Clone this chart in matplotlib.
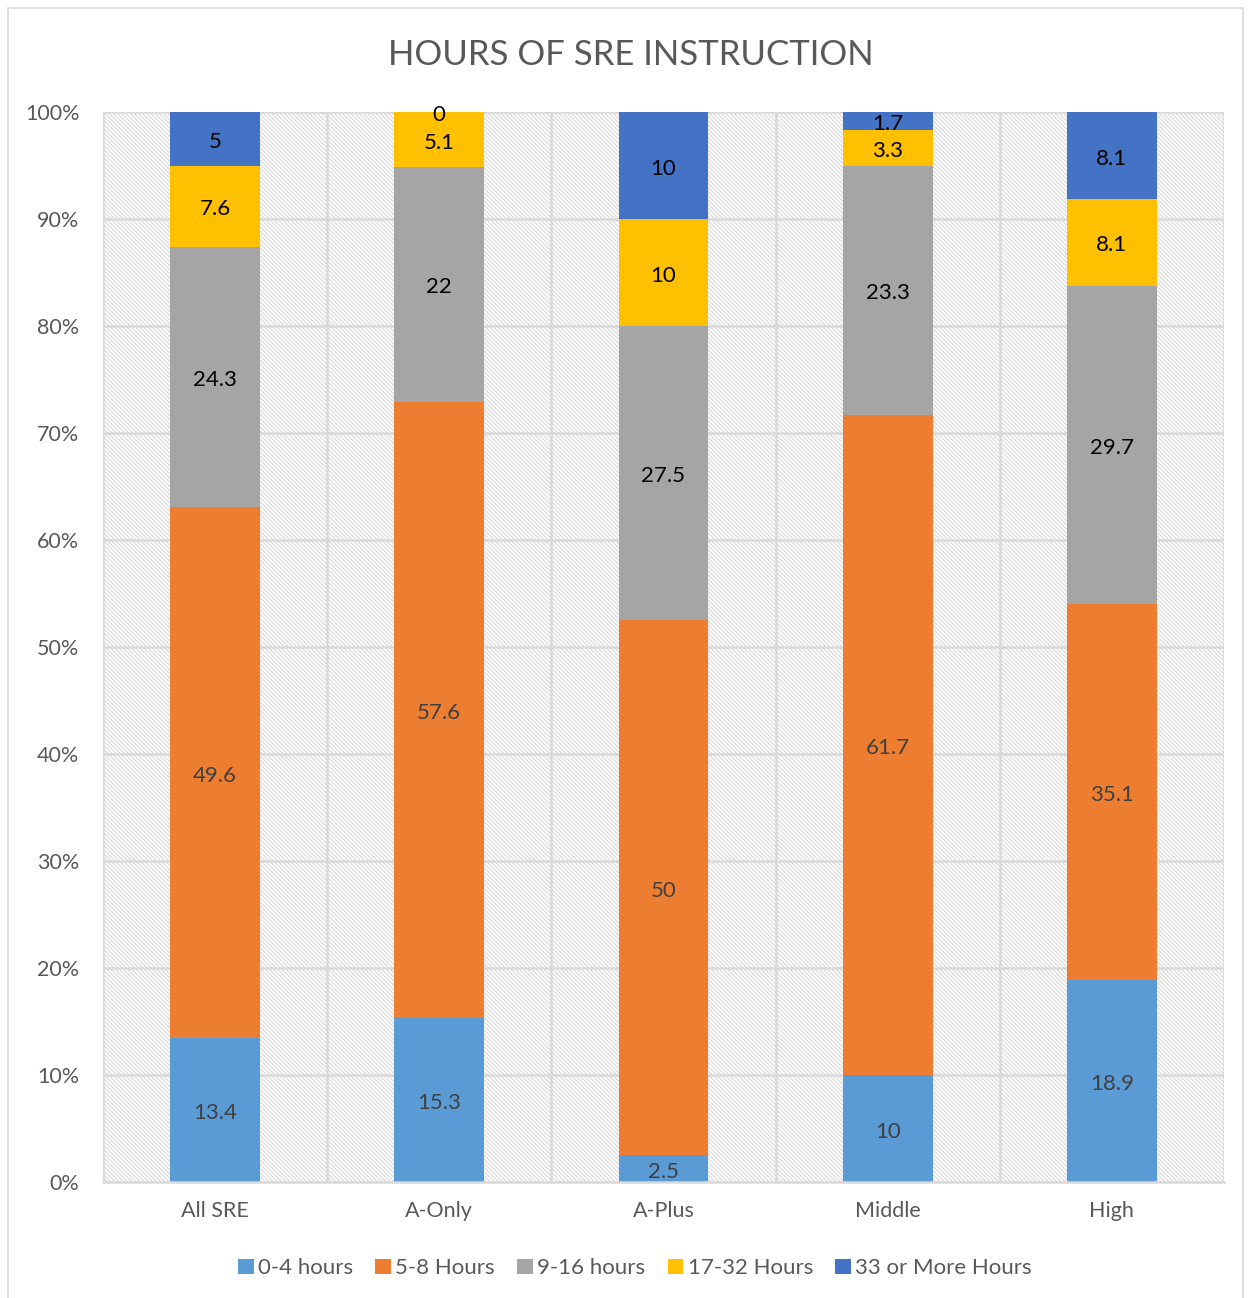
import matplotlib.pyplot as plt
import numpy as np
from matplotlib.patches import Rectangle
from matplotlib.ticker import PercentFormatter

plt.rcParams['font.family'] = ['Lato', 'DejaVu Sans']
plt.rcParams['hatch.linewidth'] = 0.9

groups = ["All SRE", "A-Only", "A-Plus", "Middle", "High"]
series = ["0-4 hours", "5-8 Hours", "9-16 hours", "17-32 Hours", "33 or More Hours"]
h0_4 = [13.4, 15.3, 2.5, 10, 18.9]
h5_8 = [49.6, 57.6, 50, 61.7, 35.1]
h9_16 = [24.3, 22, 27.5, 23.3, 29.7]
h17_32 = [7.6, 5.1, 10, 3.3, 8.1]
h33 = [5, 0, 10, 1.7, 8.1]

colors = ["#5b9bd5", "#ed7d31", "#a5a5a5", "#ffc000", "#4472c4"]
label_colors = ["#404040", "#404040", "black", "black", "black"]

fig = plt.figure(figsize=(12.5, 12.98), dpi=100)
ax = fig.add_axes([0.0824, 0.0894, 0.8968, 0.8243])

# chart border
fig.add_artist(Rectangle((0.0064, -0.01), 0.988, 1.0038, transform=fig.transFigure,
                         fill=False, edgecolor="#d9d9d9", lw=1.2))

# hatched plot area
ax.add_patch(Rectangle((0, 0), 1, 1, transform=ax.transAxes, facecolor="white",
                       edgecolor="#dcdcdc", hatch="\\" * 8, lw=0, zorder=0))

data = np.array([h0_4, h5_8, h9_16, h17_32, h33])
totals = data.sum(axis=0)
pct = data / totals * 100
x = np.arange(len(groups))
bottom = np.zeros(len(groups))
for i, name in enumerate(series):
    ax.bar(x, pct[i] / 100, 0.4, bottom=bottom / 100, color=colors[i], label=name, zorder=3)
    for j in range(len(groups)):
        ax.text(x[j], (bottom[j] + pct[i][j] / 2) / 100 - 0.003, f"{data[i][j]:g}",
                ha="center", va="center", fontsize=16, color=label_colors[i], zorder=4)
    bottom += pct[i]

ax.set_xlim(-0.5, len(groups) - 0.5)
ax.set_ylim(0, 1)
ax.set_yticks(np.linspace(0, 1, 11))
ax.yaxis.set_major_formatter(PercentFormatter(1.0, decimals=0))
ax.set_xticks(x)
ax.set_xticklabels(groups)
ax.tick_params(length=0, labelsize=15.5, colors="#595959", pad=14)
ax.tick_params(axis="y", pad=17)
for yv in np.linspace(0.1, 1, 10):
    ax.axhline(yv, color="#d9d9d9", lw=1.8, zorder=1)
for xv in np.arange(0.5, len(groups) - 0.5):
    ax.axvline(xv, color="#d9d9d9", lw=1.8, zorder=1)
ax.axvline(len(groups) - 0.5, color="#d9d9d9", lw=1.8, zorder=1)
ax.axvline(-0.5, color="#d9d9d9", lw=1.8, zorder=1)
for s in ["top", "right", "left"]:
    ax.spines[s].set_visible(False)
ax.spines["bottom"].set_color("#d9d9d9")
ax.spines["bottom"].set_linewidth(1.8)
ax.spines["bottom"].set_zorder(5)

fig.text(0.505, 0.958, "HOURS OF SRE INSTRUCTION", ha="center", va="center",
         fontsize=25, color="#595959")

fig.legend(loc="center", bbox_to_anchor=(0.508, 0.023), ncol=5, frameon=False,
           fontsize=16, labelcolor="#595959", handlelength=0.7, handleheight=0.7,
           handletextpad=0.2, columnspacing=1.0)

fig.savefig("out.png", dpi=100)
